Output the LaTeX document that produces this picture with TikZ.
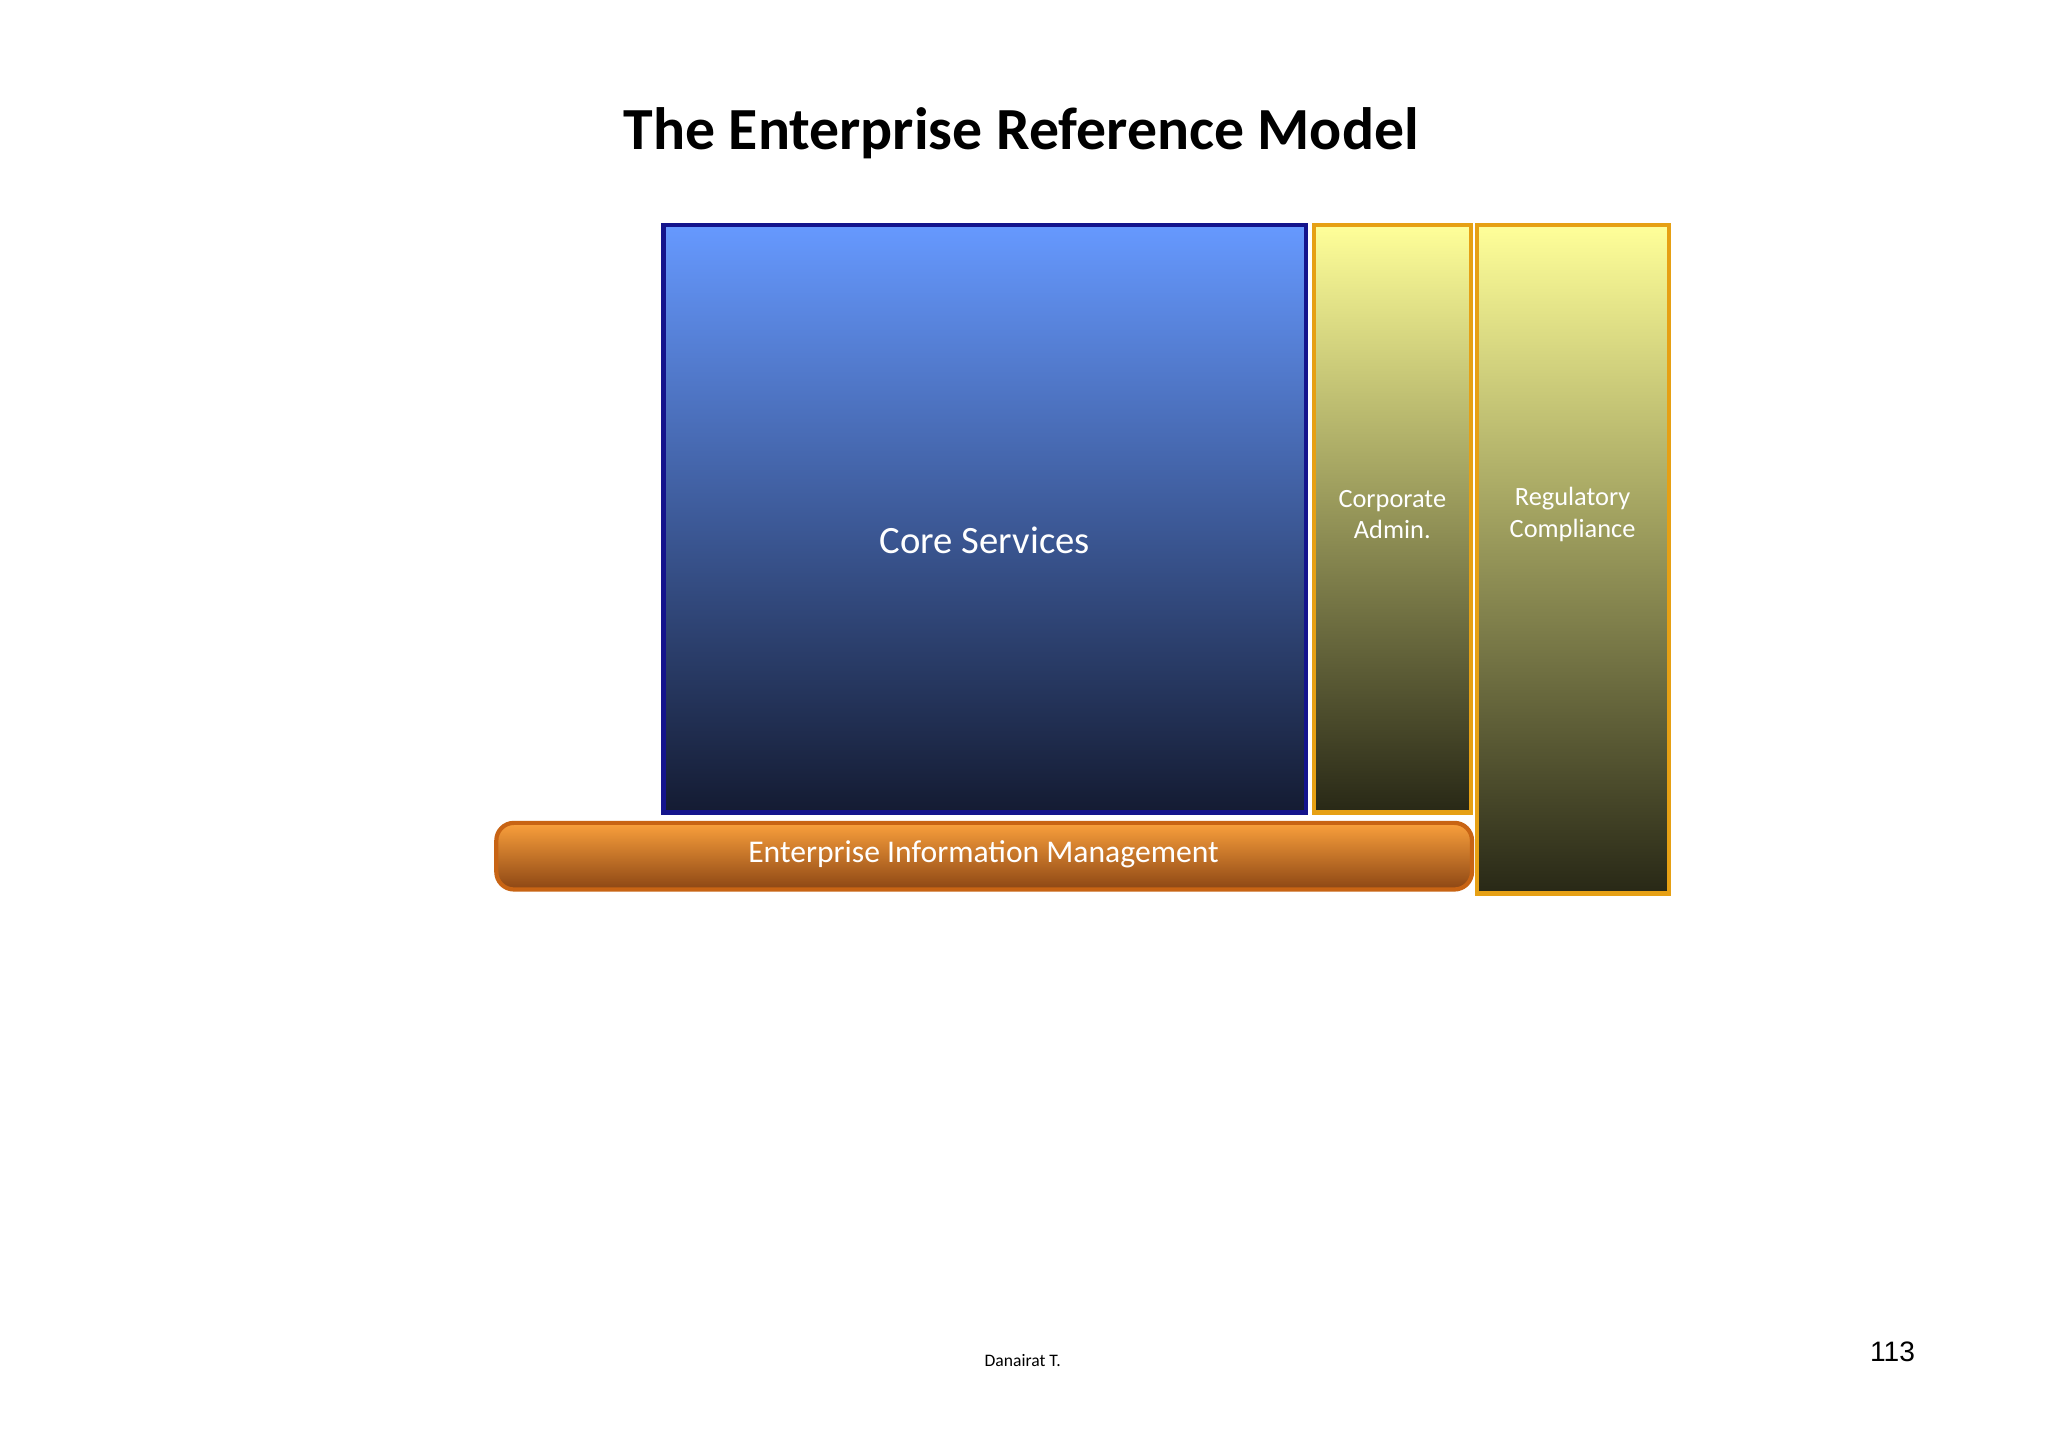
\documentclass[tikz,border=0pt]{standalone}
\usepackage{fontspec}
\setmainfont{Carlito}
\newfontfamily\arialf{Liberation Sans}
\begin{document}
\begin{tikzpicture}[x=0.0130612cm,y=-0.0130612cm,
  yel/.style={draw={rgb,255:red,230;green,160;blue,20},line width=1.2pt,top color={rgb,255:red,255;green,255;blue,153},bottom color={rgb,255:red,40;green,40;blue,22}},
  lbl/.style={text=white,align=center,font=\fontsize{7.5}{9}\selectfont}]
\useasboundingbox (0,0) rectangle (1568,1108);
\node (title) at (782,102) {\fontsize{17}{20}\selectfont\bfseries The Enterprise Reference Model};
\path[draw={rgb,255:red,20;green,20;blue,140},line width=1.2pt,top color={rgb,255:red,102;green,153;blue,255},bottom color={rgb,255:red,20;green,27;blue,50}] (508,172) rectangle (1000,622);
\node[text=white,font=\fontsize{11}{13}\selectfont] (core) at (754,414) {Core Services};
\path[yel] (1006,172) rectangle (1126,622);
\node[lbl] (corp) at (1066,394) {Corporate\\Admin.};
\path[yel] (1131,172) rectangle (1278,684);
\node[lbl] (reg) at (1204,394) {Regulatory\\Compliance};
\path[draw={rgb,255:red,200;green,100;blue,20},line width=1.2pt,rounded corners=5pt,top color={rgb,255:red,250;green,160;blue,60},bottom color={rgb,255:red,140;green,70;blue,20}] (380,630) rectangle (1127,681);
\node[text=white,font=\fontsize{9}{11}\selectfont] (eim) at (753,654) {Enterprise Information Management};
\node[font=\fontsize{5}{6}\selectfont] (auth) at (783,1042) {Danairat T.};
\node[font=\arialf\fontsize{8}{10}\selectfont] (page) at (1449,1035) {113};
\end{tikzpicture}
\end{document}
